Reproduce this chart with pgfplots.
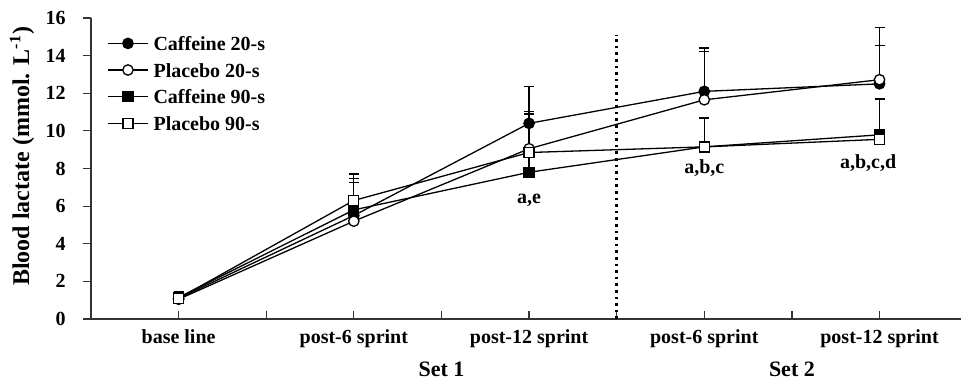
\documentclass[border=0pt]{standalone}
\usepackage{pgfplots}
\pgfplotsset{compat=1.18}
\usepackage{fontspec}
\setmainfont{Liberation Serif}
\begin{document}
\begin{tikzpicture}
\begin{axis}[
  scale only axis,
  width=435pt, height=150.5pt,
  xmin=-1, xmax=8.93, ymin=0, ymax=16,
  axis lines*=left,
  axis line style={line width=0.8pt, black!80},
  xtick={0,1,2,3,4,5,6,7,8},
  xticklabels={base line,,post-6 sprint,,post-12 sprint,,post-6 sprint,,post-12 sprint},
  ytick={0,2,4,6,8,10,12,14,16},
  x tick style={black!80, line width=0.6pt},
  y tick style={black!80, line width=0.6pt},
  xtick align=inside, ytick align=outside,
  major tick length=4pt,
  /pgf/number format/assume math mode=true,
  ticklabel style={font=\fontsize{10}{12}\selectfont\bfseries},
  xticklabel style={anchor=north, inner sep=0pt, yshift=-5pt},
  yticklabel style={anchor=east, inner sep=0pt, xshift=-8.5pt},
  ylabel={Blood lactate (mmol. L\textsuperscript{-1})},
  ylabel style={font=\fontsize{12}{14}\selectfont\bfseries, at={(axis description cs:-0.0793,0.54)}, anchor=center},
  legend style={at={(rel axis cs:0,1)}, anchor=north west, xshift=5pt, yshift=-6pt, draw=none, fill=none,
    font=\fontsize{10}{12}\selectfont\bfseries, row sep=4.3pt,
    nodes={inner sep=1pt, text height=7pt, text depth=0pt}},
  legend cell align=left,
  legend image code/.code={\draw[mark repeat=2,mark phase=2,#1] plot coordinates {(0cm,0cm)(0.35cm,0cm)(0.7cm,0cm)};},
  clip=false,
]
\addplot[black, line width=0.65pt, mark=*, mark size=2.6pt, mark options={fill=black, draw=black, solid},
  error bars/.cd, y dir=plus, y explicit,
  error bar style={line width=0.65pt, black},
  error mark options={rotate=90, mark size=2.5pt, line width=0.65pt, black}]
  coordinates {(0,1.10) +- (0,0.30) (2,5.50) +- (0,2.20) (4,10.40) +- (0,1.95) (6,12.10) +- (0,2.30) (8,12.50) +- (0,3.00)};
\addlegendentry{\hspace{1.5pt}Caffeine 20-s}
\addplot[black, line width=0.65pt, mark=*, mark size=2.6pt, mark options={fill=white, draw=black, solid},
  error bars/.cd, y dir=plus, y explicit,
  error bar style={line width=0.65pt, black},
  error mark options={rotate=90, mark size=2.5pt, line width=0.65pt, black}]
  coordinates {(0,1.05) +- (0,0.25) (2,5.20) +- (0,2.28) (4,9.05) +- (0,1.98) (6,11.65) +- (0,2.57) (8,12.72) +- (0,1.80)};
\addlegendentry{\hspace{1.5pt}Placebo 20-s}
\addplot[black, line width=0.65pt, mark=square*, mark size=2.5pt, mark options={fill=black, draw=black, solid},
  error bars/.cd, y dir=plus, y explicit,
  error bar style={line width=0.65pt, black},
  error mark options={rotate=90, mark size=2.5pt, line width=0.65pt, black}]
  coordinates {(0,1.15) +- (0,0.30) (2,5.80) +- (0,1.47) (4,7.80) +- (0,0.90) (6,9.15) +- (0,1.53) (8,9.79) +- (0,1.90)};
\addlegendentry{\hspace{1.5pt}Caffeine 90-s}
\addplot[black, line width=0.65pt, mark=square*, mark size=2.5pt, mark options={fill=white, draw=black, solid},
  error bars/.cd, y dir=plus, y explicit,
  error bar style={line width=0.65pt, black},
  error mark options={rotate=90, mark size=2.5pt, line width=0.65pt, black}]
  coordinates {(0,1.10) +- (0,0.30) (2,6.30) +- (0,1.41) (4,8.85) +- (0,2.05) (6,9.15) +- (0,0.0) (8,9.55) +- (0,0.0)};
\addlegendentry{\hspace{1.5pt}Placebo 90-s}
\addplot[line width=1.3pt, dotted, black, forget plot] coordinates {(5,0) (5,15.1)};
\node[font=\fontsize{10}{12}\selectfont\bfseries] at (axis cs:4,6.33) {a,e};
\node[font=\fontsize{10}{12}\selectfont\bfseries] at (axis cs:6,8.0) {a,b,c};
\node[font=\fontsize{10}{12}\selectfont\bfseries] at (axis cs:7.87,8.3) {a,b,c,d};
\node[font=\fontsize{11}{13}\selectfont\bfseries] at (axis cs:3,0) [yshift=-25pt] {Set 1};
\node[font=\fontsize{11}{13}\selectfont\bfseries] at (axis cs:7,0) [yshift=-25pt] {Set 2};
\end{axis}
\pgfresetboundingbox
\useasboundingbox (-45.5pt,-33pt) rectangle (435pt,159.5pt);
\end{tikzpicture}
\end{document}
